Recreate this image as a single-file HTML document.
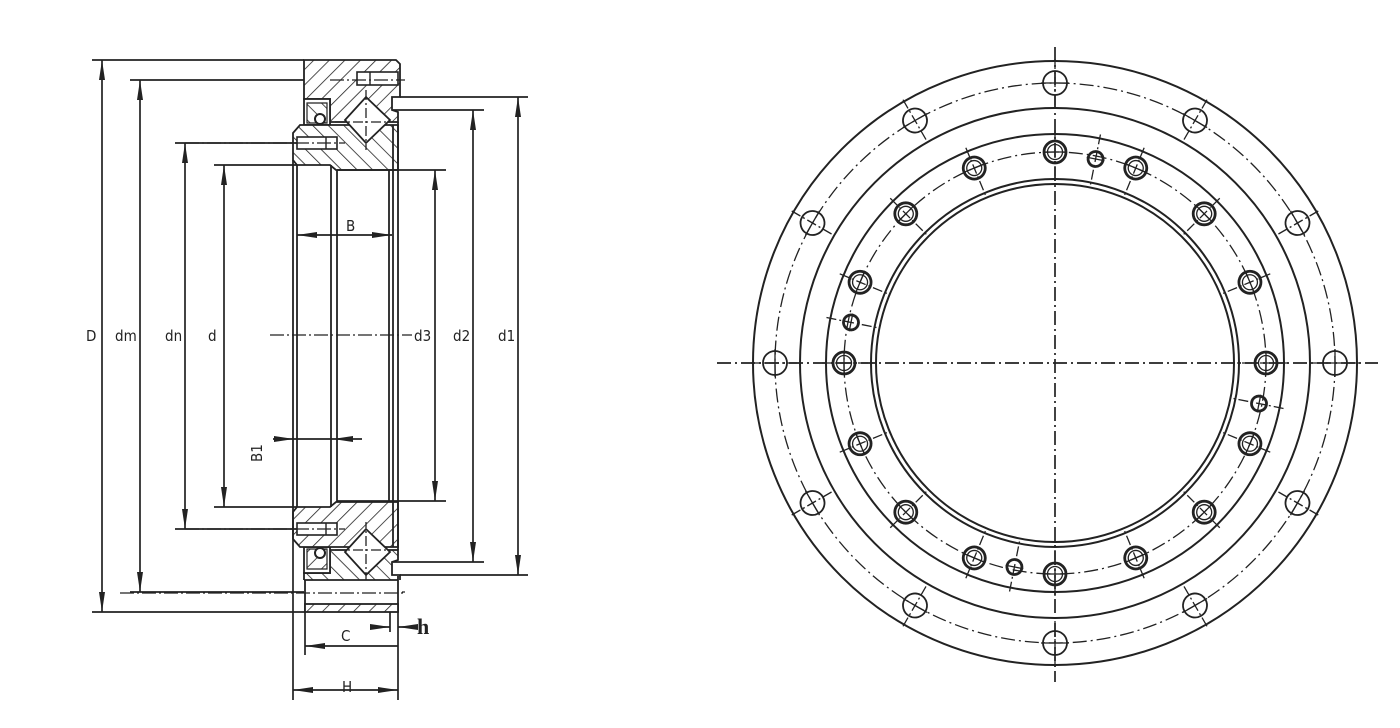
<!DOCTYPE html>
<html><head><meta charset="utf-8"><style>
html,body{margin:0;padding:0;background:#fff}
svg{display:block}
text{font-family:"DejaVu Sans Condensed","Liberation Sans",sans-serif;font-size:15px;fill:#222}
</style></head><body>
<svg width="1400" height="728" viewBox="0 0 1400 728" xmlns="http://www.w3.org/2000/svg">
<defs>
<pattern id="h1" patternUnits="userSpaceOnUse" width="11" height="11" patternTransform="rotate(45)">
<rect width="11" height="11" fill="#fff"/><line x1="0" y1="0" x2="0" y2="11" stroke="#222" stroke-width="1.6"/></pattern>
<pattern id="h2" patternUnits="userSpaceOnUse" width="11" height="11" patternTransform="rotate(-45)">
<rect width="11" height="11" fill="#fff"/><line x1="0" y1="0" x2="0" y2="11" stroke="#222" stroke-width="1.6"/></pattern>
<marker id="ar" viewBox="0 0 20 6" refX="20" refY="3" markerWidth="20" markerHeight="6" markerUnits="userSpaceOnUse" orient="auto">
<path d="M0,0 L20,3 L0,6 z" fill="#222"/></marker>
<marker id="al" viewBox="0 0 20 6" refX="0" refY="3" markerWidth="20" markerHeight="6" markerUnits="userSpaceOnUse" orient="auto">
<path d="M20,0 L0,3 L20,6 z" fill="#222"/></marker>
<g id="sec">
<path d="M304,60 L396,60 L400,64 L400,97 L392,97 L392,110 L398,112 L398,122 L345,122 L330,122 L330,99 L304,99 Z" fill="url(#h1)" stroke="#222" stroke-width="1.8"/>
<rect x="357" y="72" width="41" height="13" fill="#fff" stroke="#222" stroke-width="1.6"/>
<line x1="370" y1="72" x2="370" y2="85" stroke="#222" stroke-width="1.4"/>
<rect x="304" y="99" width="26" height="26" fill="#fff" stroke="#222" stroke-width="1.8"/>
<path d="M307,103 L327,103 L327,123 L307,123 Z" fill="url(#h2)" stroke="#222" stroke-width="1.2"/>
<circle cx="320" cy="119" r="5" fill="#fff" stroke="#222" stroke-width="2"/>
<path d="M293,133 L300,125 L398,125 L398,170 L336,170 L330,165 L297,165 L293,160 Z" fill="url(#h2)" stroke="#222" stroke-width="1.8"/>
<rect x="297" y="137" width="40" height="12" fill="#fff" stroke="#222" stroke-width="1.6"/>
<line x1="326" y1="137" x2="326" y2="149" stroke="#222" stroke-width="1.4"/>
<path d="M366,97 L390,120 L366,143 L345,120 Z" fill="#fff" stroke="#222" stroke-width="1.8"/>
<line x1="366" y1="90" x2="366" y2="150" stroke="#222" stroke-width="1.3" stroke-dasharray="10 3 2 3"/>
<line x1="335" y1="122" x2="398" y2="122" stroke="#222" stroke-width="1.3" stroke-dasharray="10 3 2 3"/>
<line x1="185" y1="143" x2="345" y2="143" stroke="#222" stroke-width="1.3" stroke-dasharray="14 3 2 3"/>
<line x1="330" y1="80" x2="405" y2="80" stroke="#222" stroke-width="1.3" stroke-dasharray="14 3 2 3"/>
</g>
</defs>

<g fill="none" stroke="#222">
<use href="#sec"/>
<g transform="translate(0,672) scale(1,-1)"><use href="#sec"/></g>
<rect x="303" y="580" width="99" height="34" fill="#fff" stroke="none"/>
<line x1="304" y1="580" x2="398" y2="580" stroke-width="1.8"/>
<line x1="305" y1="580" x2="305" y2="612" stroke-width="1.8"/>
<line x1="398" y1="576" x2="398" y2="612" stroke-width="1.8"/>
<line x1="120" y1="593" x2="405" y2="593" stroke-width="1.3" stroke-dasharray="14 3 2 3"/>
<rect x="305" y="604" width="93" height="8" fill="url(#h1)" stroke-width="1.8"/>

<g stroke-width="1.8">
<line x1="293" y1="160" x2="293" y2="512"/>
<line x1="297" y1="165" x2="297" y2="507"/>
<line x1="331" y1="165" x2="331" y2="507"/>
<line x1="337" y1="170" x2="337" y2="502"/>
<line x1="389" y1="170" x2="389" y2="502"/>
<line x1="393" y1="125" x2="393" y2="547"/>
<line x1="398" y1="122" x2="398" y2="550"/>
</g>
<line x1="270" y1="335" x2="412" y2="335" stroke-width="1.3" stroke-dasharray="14 3 2 3"/>

<g stroke-width="1.7">
<line x1="92" y1="60" x2="304" y2="60"/>
<line x1="92" y1="612" x2="305" y2="612"/>
<line x1="102" y1="60" x2="102" y2="612" marker-start="url(#al)" marker-end="url(#ar)"/>
<line x1="130" y1="80" x2="304" y2="80"/>
<line x1="130" y1="592" x2="304" y2="592"/>
<line x1="140" y1="80" x2="140" y2="592" marker-start="url(#al)" marker-end="url(#ar)"/>
<line x1="175" y1="143" x2="297" y2="143"/>
<line x1="175" y1="529" x2="297" y2="529"/>
<line x1="185" y1="143" x2="185" y2="529" marker-start="url(#al)" marker-end="url(#ar)"/>
<line x1="214" y1="165" x2="297" y2="165"/>
<line x1="214" y1="507" x2="297" y2="507"/>
<line x1="224" y1="165" x2="224" y2="507" marker-start="url(#al)" marker-end="url(#ar)"/>
<line x1="337" y1="170" x2="446" y2="170"/>
<line x1="337" y1="501" x2="446" y2="501"/>
<line x1="435" y1="170" x2="435" y2="501" marker-start="url(#al)" marker-end="url(#ar)"/>
<line x1="393" y1="110" x2="484" y2="110"/>
<line x1="393" y1="562" x2="484" y2="562"/>
<line x1="473" y1="110" x2="473" y2="562" marker-start="url(#al)" marker-end="url(#ar)"/>
<line x1="400" y1="97" x2="528" y2="97"/>
<line x1="400" y1="575" x2="528" y2="575"/>
<line x1="518" y1="97" x2="518" y2="575" marker-start="url(#al)" marker-end="url(#ar)"/>
<line x1="297" y1="235" x2="392" y2="235" marker-start="url(#al)" marker-end="url(#ar)"/>
<line x1="273" y1="439" x2="294" y2="439" marker-end="url(#ar)"/>
<line x1="294" y1="439" x2="333" y2="439"/>
<line x1="362" y1="439" x2="333" y2="439" marker-end="url(#ar)"/>
<line x1="293" y1="512" x2="293" y2="700"/>
<line x1="305" y1="612" x2="305" y2="655"/>
<line x1="398" y1="612" x2="398" y2="700"/>
<line x1="390" y1="612" x2="390" y2="632"/>
<line x1="305" y1="646" x2="398" y2="646" marker-start="url(#al)"/>
<line x1="372" y1="627" x2="390" y2="627" marker-end="url(#ar)"/>
<line x1="416" y1="627" x2="398" y2="627" marker-end="url(#ar)"/>
<line x1="293" y1="690" x2="398" y2="690" marker-start="url(#al)" marker-end="url(#ar)"/>
</g>
</g>
<g>
<text x="86" y="341">D</text>
<text x="115" y="341">dm</text>
<text x="165" y="341">dn</text>
<text x="208" y="341">d</text>
<text x="414" y="341">d3</text>
<text x="453" y="341">d2</text>
<text x="498" y="341">d1</text>
<text x="346" y="231">B</text>
<text x="341" y="641">C</text>
<text x="342" y="692">H</text>
<text x="262" y="462" transform="rotate(-90 262 462)">B1</text>
<text x="417" y="634" style="font-family:'Liberation Serif',serif;font-weight:bold;font-size:22px">h</text>
</g>

<g fill="none" stroke="#222" stroke-width="2">
<circle cx="1055" cy="363" r="302"/>
<circle cx="1055" cy="363" r="255"/>
<circle cx="1055" cy="363" r="229"/>
<circle cx="1055" cy="363" r="184"/>
<circle cx="1055" cy="363" r="179"/>
<g stroke-width="1.3" stroke-dasharray="14 4 2 4">
<circle cx="1055" cy="363" r="280"/>
<circle cx="1055" cy="363" r="211"/>
<line x1="717" y1="363" x2="1378" y2="363" stroke-width="1.7"/>
<line x1="1055" y1="47" x2="1055" y2="682" stroke-width="1.7"/>
</g>
<g id="oh"><circle cx="1055" cy="83" r="12" stroke-width="1.8"/>
<line x1="1055" y1="59" x2="1055" y2="107" stroke-width="1.3" stroke-dasharray="10 3 2 3"/>
<line x1="1041" y1="83" x2="1069" y2="83" stroke-width="1.3"/></g>
<use href="#oh" transform="rotate(30 1055 363)"/><use href="#oh" transform="rotate(60 1055 363)"/>
<use href="#oh" transform="rotate(90 1055 363)"/><use href="#oh" transform="rotate(120 1055 363)"/>
<use href="#oh" transform="rotate(150 1055 363)"/><use href="#oh" transform="rotate(180 1055 363)"/>
<use href="#oh" transform="rotate(210 1055 363)"/><use href="#oh" transform="rotate(240 1055 363)"/>
<use href="#oh" transform="rotate(270 1055 363)"/><use href="#oh" transform="rotate(300 1055 363)"/>
<use href="#oh" transform="rotate(330 1055 363)"/>
<g id="ih"><circle cx="1055" cy="152" r="11" stroke-width="2.8"/><circle cx="1055" cy="152" r="7.5" stroke-width="1.3"/>
<line x1="1055" y1="130" x2="1055" y2="182" stroke-width="1.3" stroke-dasharray="10 3 2 3"/>
<line x1="1043" y1="152" x2="1067" y2="152" stroke-width="1.3"/></g>
<use href="#ih" transform="rotate(22.5 1055 363)"/><use href="#ih" transform="rotate(45 1055 363)"/>
<use href="#ih" transform="rotate(67.5 1055 363)"/><use href="#ih" transform="rotate(90 1055 363)"/>
<use href="#ih" transform="rotate(112.5 1055 363)"/><use href="#ih" transform="rotate(135 1055 363)"/>
<use href="#ih" transform="rotate(157.5 1055 363)"/><use href="#ih" transform="rotate(180 1055 363)"/>
<use href="#ih" transform="rotate(202.5 1055 363)"/><use href="#ih" transform="rotate(225 1055 363)"/>
<use href="#ih" transform="rotate(247.5 1055 363)"/><use href="#ih" transform="rotate(270 1055 363)"/>
<use href="#ih" transform="rotate(292.5 1055 363)"/><use href="#ih" transform="rotate(315 1055 363)"/>
<use href="#ih" transform="rotate(337.5 1055 363)"/>
<g id="sh" transform="rotate(11.25 1055 363)"><circle cx="1055" cy="155" r="7.5" stroke-width="2.8"/>
<line x1="1055" y1="130" x2="1055" y2="182" stroke-width="1.3" stroke-dasharray="10 3 2 3"/>
<line x1="1046" y1="155" x2="1064" y2="155" stroke-width="1.3"/></g>
<use href="#sh" transform="rotate(90 1055 363)"/><use href="#sh" transform="rotate(180 1055 363)"/>
<use href="#sh" transform="rotate(270 1055 363)"/>
</g>
</svg>
</body></html>
